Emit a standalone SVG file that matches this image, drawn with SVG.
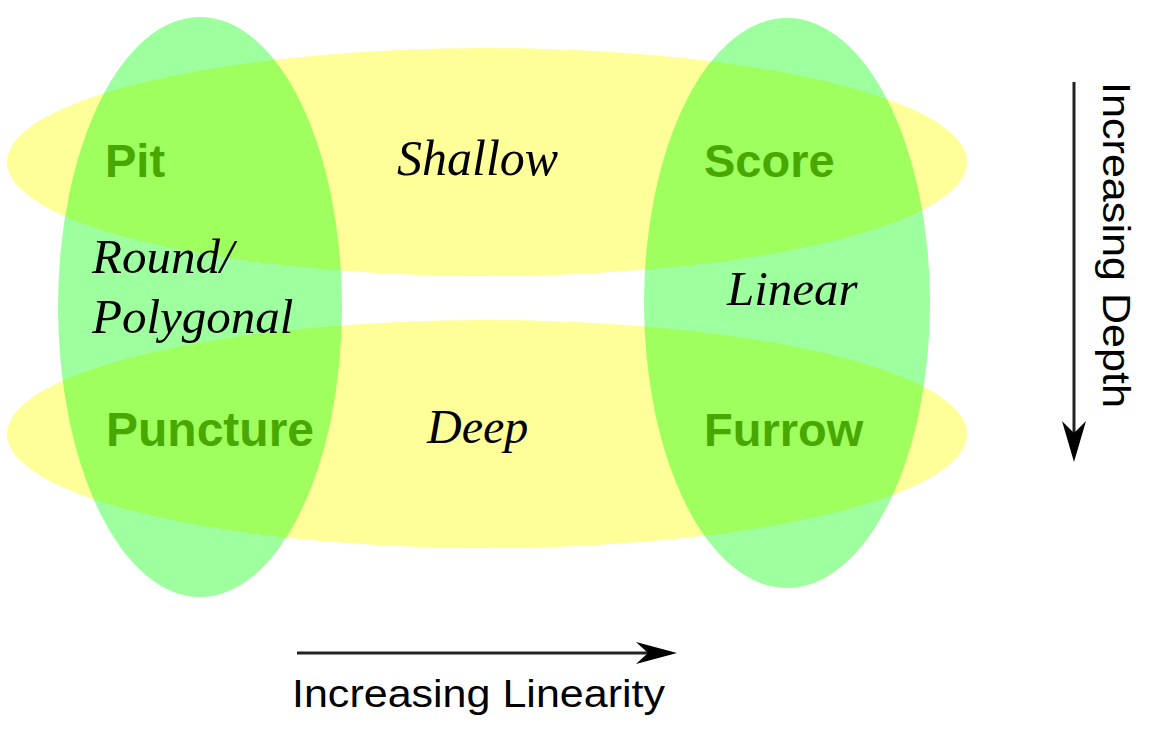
<svg xmlns="http://www.w3.org/2000/svg" width="1151" height="731" viewBox="0 0 1151 731">
<style>
.yel{fill:#ffff99;}
.grn{fill:#00ff00;fill-opacity:0.38;}
.lbl{font-family:"Liberation Sans",Arial,sans-serif;font-weight:bold;fill:#48a800;}
.it{font-family:"Liberation Serif","Times New Roman",serif;font-style:italic;fill:#000;}
.ax{font-family:"Liberation Sans",Arial,sans-serif;fill:#000;font-size:38px;}
.ln{stroke:#222;stroke-width:3;fill:none;}
.hd{fill:#000;}
</style>
<rect width="1151" height="731" fill="#fff"/>
<g id="shallow"><ellipse class="yel" cx="487" cy="162" rx="480" ry="114"/></g>
<g id="deep"><ellipse class="yel" cx="487" cy="434" rx="480" ry="114"/></g>
<g id="round"><ellipse class="grn" cx="200" cy="307" rx="142" ry="290"/></g>
<g id="linear"><ellipse class="grn" cx="787" cy="303" rx="143" ry="285"/></g>
<g id="labels">
<text class="lbl" x="105" y="177" font-size="47">Pit</text>
<text class="lbl" x="704" y="177" font-size="47">Score</text>
<text class="lbl" x="106" y="446" font-size="48">Puncture</text>
<text class="lbl" x="704" y="446" font-size="47">Furrow</text>
<text class="it" x="397" y="175" font-size="50">Shallow</text>
<text class="it" x="427" y="443" font-size="48">Deep</text>
<text class="it" x="727" y="305" font-size="49">Linear</text>
<text class="it" x="92" y="273" font-size="49">Round/</text>
<text class="it" x="92" y="333" font-size="49">Polygonal</text>
</g>
<g id="connectors">
<line class="ln" x1="297" y1="653" x2="650" y2="653"/>
<path class="hd" d="M677,653 L636,642 L648,653 L636,664 Z"/>
<line class="ln" x1="1074" y1="82" x2="1074" y2="434"/>
<path class="hd" d="M1074,462 L1062,421 L1074,433 L1086,421 Z"/>
</g>
<g id="axis-labels">
<text class="ax" x="292" y="707" textLength="373" lengthAdjust="spacingAndGlyphs">Increasing Linearity</text>
<text class="ax" transform="translate(1103,82) rotate(90)" x="0" y="0" textLength="326" lengthAdjust="spacingAndGlyphs">Increasing Depth</text>
</g>
</svg>
